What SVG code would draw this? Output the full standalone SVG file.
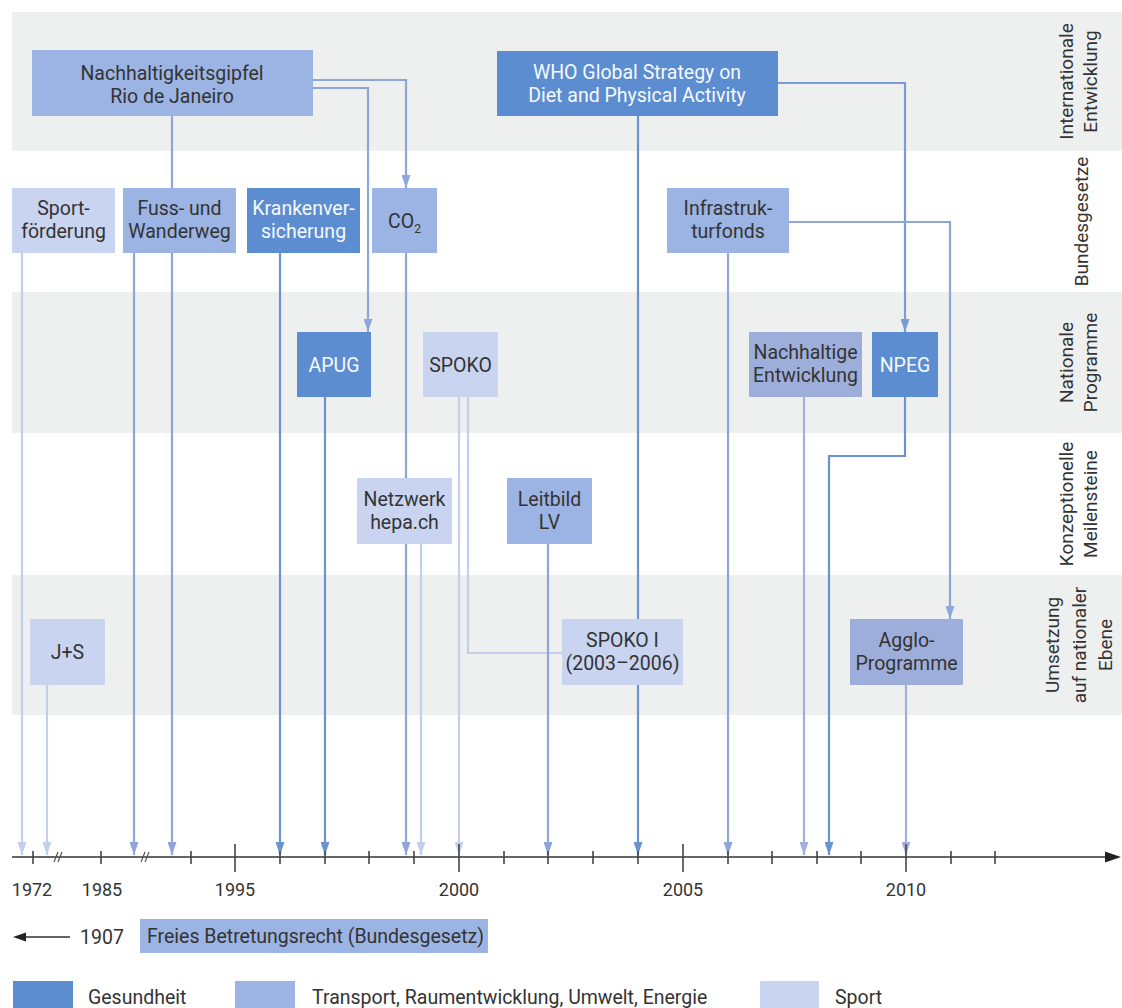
<svg xmlns="http://www.w3.org/2000/svg" width="1122" height="1008" viewBox="0 0 1122 1008">
<defs>
<style>
text{font-family:Roboto,'Liberation Sans',sans-serif;font-size:19.5px;fill:#333}
.c{text-anchor:middle}
.w{fill:#f7f9fd}
.dk{fill:#5b8dd0}
.md{fill:#9cb4e3}
.mp{fill:#9eaedb}
.lt{fill:#c9d5f0}
.band{fill:#eef0f0}
.ln{fill:none;stroke-width:2.2}
.ld{stroke:#6a93d0}
.ln2{stroke:#7b9bd4}
.lm{stroke:#8fa7d8}
.ll{stroke:#c3cfec}
.lp{stroke:#a2aedb}
.tick{stroke:#444;stroke-width:1.6}
.brk{stroke:#555;stroke-width:1.2}
.yr{font-size:18px}
.lab{font-size:19px}
</style>
<marker id="ad" viewBox="0 0 13 9" refX="13" refY="4.5" markerWidth="13" markerHeight="9" markerUnits="userSpaceOnUse" orient="auto"><path d="M0,0 L13,4.5 L0,9 z" fill="#6a93d0"/></marker>
<marker id="an" viewBox="0 0 13 9" refX="13" refY="4.5" markerWidth="13" markerHeight="9" markerUnits="userSpaceOnUse" orient="auto"><path d="M0,0 L13,4.5 L0,9 z" fill="#7b9bd4"/></marker>
<marker id="am" viewBox="0 0 13 9" refX="13" refY="4.5" markerWidth="13" markerHeight="9" markerUnits="userSpaceOnUse" orient="auto"><path d="M0,0 L13,4.5 L0,9 z" fill="#8fa7d8"/></marker>
<marker id="al" viewBox="0 0 13 9" refX="13" refY="4.5" markerWidth="13" markerHeight="9" markerUnits="userSpaceOnUse" orient="auto"><path d="M0,0 L13,4.5 L0,9 z" fill="#c3cfec"/></marker>
<marker id="ap" viewBox="0 0 13 9" refX="13" refY="4.5" markerWidth="13" markerHeight="9" markerUnits="userSpaceOnUse" orient="auto"><path d="M0,0 L13,4.5 L0,9 z" fill="#a2aedb"/></marker>
</defs>
<rect width="1122" height="1008" fill="#fff"/>
<g id="bands">
<rect class="band" x="12" y="12" width="1110" height="139"/>
<rect class="band" x="12" y="292" width="1110" height="141"/>
<rect class="band" x="12" y="575" width="1110" height="140"/>
</g>
<g id="row-labels">
<g transform="translate(1078,81.5) rotate(-90)"><text class="c lab" y="-5">Internationale</text><text class="c lab" y="19">Entwicklung</text></g>
<g transform="translate(1078,221.5) rotate(-90)"><text class="c lab" y="10">Bundesgesetze</text></g>
<g transform="translate(1078,362.5) rotate(-90)"><text class="c lab" y="-5">Nationale</text><text class="c lab" y="19">Programme</text></g>
<g transform="translate(1078,504) rotate(-90)"><text class="c lab" y="-5">Konzeptionelle</text><text class="c lab" y="19">Meilensteine</text></g>
<g transform="translate(1078,645) rotate(-90)"><text class="c lab" y="-19">Umsetzung</text><text class="c lab" y="7.5">auf nationaler</text><text class="c lab" y="34">Ebene</text></g>
</g>
<g id="connectors">
<path class="ln ll" d="M22,253 V855" marker-end="url(#al)"/>
<path class="ln ll" d="M47,685 V855" marker-end="url(#al)"/>
<path class="ln lm" d="M134,253 V855" marker-end="url(#am)"/>
<path class="ln lm" d="M172,116 V855" marker-end="url(#am)"/>
<path class="ln ld" d="M280,253 V855" marker-end="url(#ad)"/>
<path class="ln ld" d="M325,397 V855" marker-end="url(#ad)"/>
<path class="ln lm" d="M313,88 H368 V332" marker-end="url(#am)"/>
<path class="ln lm" d="M313,80 H406 V188" marker-end="url(#am)"/>
<path class="ln lm" d="M406,253 V855" marker-end="url(#am)"/>
<path class="ln ll" d="M421,544 V855" marker-end="url(#al)"/>
<path class="ln ll" d="M459,397 V855" marker-end="url(#al)"/>
<path class="ln ll" d="M468,397 V653 H562"/>
<path class="ln lm" d="M548,544 V855" marker-end="url(#am)"/>
<path class="ln ld" d="M638,116 V855" marker-end="url(#ad)"/>
<path class="ln ln2" d="M778,83 H905 V332" marker-end="url(#an)"/>
<path class="ln lm" d="M728,253 V855" marker-end="url(#am)"/>
<path class="ln lm" d="M789,222 H950 V619" marker-end="url(#am)"/>
<path class="ln lp" d="M804,397 V855" marker-end="url(#ap)"/>
<path class="ln ld" d="M905,397 V456 H829 V855" marker-end="url(#ad)"/>
<path class="ln lp" d="M906,685 V855" marker-end="url(#ap)"/>
</g>
<g id="axis">
<line x1="12" y1="857" x2="1108" y2="857" stroke="#666" stroke-width="2.2"/>
<polygon points="1105,851.5 1121,857 1105,862.5" fill="#222"/>
<g class="tick">
<line x1="33" y1="851" x2="33" y2="864"/><line x1="101" y1="851" x2="101" y2="864"/><line x1="191" y1="851" x2="191" y2="864"/>
<line x1="280" y1="851" x2="280" y2="864"/><line x1="325" y1="851" x2="325" y2="864"/><line x1="369" y1="851" x2="369" y2="864"/>
<line x1="414" y1="851" x2="414" y2="864"/><line x1="504" y1="851" x2="504" y2="864"/><line x1="548" y1="851" x2="548" y2="864"/>
<line x1="593" y1="851" x2="593" y2="864"/><line x1="638" y1="851" x2="638" y2="864"/><line x1="728" y1="851" x2="728" y2="864"/>
<line x1="772" y1="851" x2="772" y2="864"/><line x1="817" y1="851" x2="817" y2="864"/><line x1="861" y1="851" x2="861" y2="864"/>
<line x1="951" y1="851" x2="951" y2="864"/><line x1="995" y1="851" x2="995" y2="864"/>
<line x1="235" y1="844" x2="235" y2="872"/><line x1="459" y1="844" x2="459" y2="872"/><line x1="683" y1="844" x2="683" y2="872"/><line x1="906" y1="844" x2="906" y2="872"/>
</g>
<g class="brk">
<line x1="54" y1="862" x2="58" y2="852"/><line x1="58" y1="862" x2="62" y2="852"/>
<line x1="141" y1="862" x2="145" y2="852"/><line x1="145" y1="862" x2="149" y2="852"/>
</g>
<g class="yr">
<text class="c yr" x="32" y="896">1972</text>
<text class="c yr" x="102" y="896">1985</text>
<text class="c yr" x="235" y="896">1995</text>
<text class="c yr" x="459" y="896">2000</text>
<text class="c yr" x="683" y="896">2005</text>
<text class="c yr" x="906" y="896">2010</text>
</g>
</g>
<g id="nodes">
<g id="rio"><rect class="md" x="32" y="50" width="281" height="66"/><text class="c" x="172" y="80">Nachhaltigkeitsgipfel</text><text class="c" x="172" y="103">Rio de Janeiro</text></g>
<g id="who"><rect class="dk" x="497" y="51" width="281" height="65"/><text class="c w" x="637" y="79">WHO Global Strategy on</text><text class="c w" x="637" y="102">Diet and Physical Activity</text></g>
<g id="sportfoerderung"><rect class="lt" x="12" y="188" width="103" height="65"/><text class="c" x="63.5" y="215">Sport-</text><text class="c" x="63.5" y="238">förderung</text></g>
<g id="fuss"><rect class="md" x="123" y="188" width="113" height="65"/><text class="c" x="179.5" y="215">Fuss- und</text><text class="c" x="179.5" y="238">Wanderweg</text></g>
<g id="kranken"><rect class="dk" x="247" y="188" width="113" height="65"/><text class="c w" x="303.5" y="215">Krankenver-</text><text class="c w" x="303.5" y="238">sicherung</text></g>
<g id="co2"><rect class="md" x="372" y="188" width="65" height="65"/><text class="c" x="404.5" y="227.5">CO<tspan font-size="12" dy="5">2</tspan></text></g>
<g id="infra"><rect class="md" x="667" y="188" width="122" height="65"/><text class="c" x="728" y="215">Infrastruk-</text><text class="c" x="728" y="238">turfonds</text></g>
<g id="apug"><rect class="dk" x="297" y="332" width="74" height="65"/><text class="c w" x="334" y="371.5">APUG</text></g>
<g id="spoko"><rect class="lt" x="423" y="332" width="75" height="65"/><text class="c" x="460.5" y="371.5">SPOKO</text></g>
<g id="nachhaltige"><rect class="mp" x="749" y="332" width="113" height="65"/><text class="c" x="805.5" y="359">Nachhaltige</text><text class="c" x="805.5" y="382">Entwicklung</text></g>
<g id="npeg"><rect class="dk" x="872" y="332" width="66" height="65"/><text class="c w" x="905" y="371.5">NPEG</text></g>
<g id="netzwerk"><rect class="lt" x="357" y="478" width="95" height="66"/><text class="c" x="404.5" y="505.5">Netzwerk</text><text class="c" x="404.5" y="528.5">hepa.ch</text></g>
<g id="leitbild"><rect class="md" x="507" y="478" width="85" height="66"/><text class="c" x="549.5" y="505.5">Leitbild</text><text class="c" x="549.5" y="528.5">LV</text></g>
<g id="js"><rect class="lt" x="30" y="619" width="75" height="66"/><text class="c" x="67.5" y="659">J+S</text></g>
<g id="spoko1"><rect class="lt" x="562" y="619" width="121" height="66"/><text class="c" x="622.5" y="646.5">SPOKO I</text><text class="c" x="622.5" y="669.5">(2003–2006)</text></g>
<g id="agglo"><rect class="mp" x="850" y="619" width="113" height="66"/><text class="c" x="906.5" y="646.5">Agglo-</text><text class="c" x="906.5" y="669.5">Programme</text></g>
<g id="freies"><line x1="70" y1="937" x2="24" y2="937" stroke="#333" stroke-width="1.6"/><polygon points="13,937 26,932.5 26,941.5" fill="#222"/><text x="80" y="944">1907</text><rect class="md" x="140" y="919" width="348" height="34"/><text x="147" y="943">Freies Betretungsrecht (Bundesgesetz)</text></g>
</g>
<g id="legend">
<rect class="dk" x="13" y="981" width="60" height="27"/><text x="88" y="1004">Gesundheit</text>
<rect class="md" x="235" y="981" width="60" height="27"/><text x="312" y="1004">Transport, Raumentwicklung, Umwelt, Energie</text>
<rect class="lt" x="760" y="981" width="59" height="27"/><text x="835" y="1004">Sport</text>
</g>
</svg>
